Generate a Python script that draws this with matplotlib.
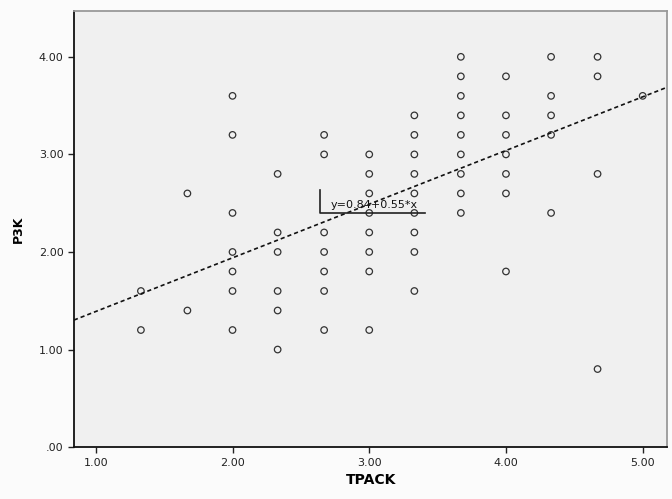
import numpy as np
import matplotlib
matplotlib.use("Agg")
import matplotlib.pyplot as plt
from matplotlib.ticker import FuncFormatter

# TPACK scores (x) and P3K scores (y), grouped by TPACK column
tpack_levels = [1.33, 1.67, 2.00, 2.33, 2.67, 3.00, 3.33, 3.67, 4.00, 4.33, 4.67, 5.00]
p3k_by_level = [
    [1.6, 1.2],
    [2.6, 1.4],
    [3.6, 3.2, 2.4, 2.0, 1.8, 1.6, 1.2],
    [2.8, 2.2, 2.0, 1.6, 1.4, 1.0],
    [3.2, 3.0, 2.2, 2.0, 1.8, 1.6, 1.2],
    [3.0, 2.8, 2.6, 2.4, 2.2, 2.0, 1.8, 1.2],
    [3.4, 3.2, 3.0, 2.8, 2.6, 2.4, 2.2, 2.0, 1.6],
    [4.0, 3.8, 3.6, 3.4, 3.2, 3.0, 2.8, 2.6, 2.4],
    [3.8, 3.4, 3.2, 3.0, 2.8, 2.6, 1.8],
    [4.0, 3.6, 3.4, 3.2, 2.4],
    [4.0, 3.8, 2.8, 0.8],
    [3.6],
]
fit_intercept = 0.84
fit_slope = 0.55
x_ticks = [1, 2, 3, 4, 5]
y_ticks = [0, 1, 2, 3, 4]

x = []
y = []
for lvl, vals in zip(tpack_levels, p3k_by_level):
    x += [lvl] * len(vals)
    y += vals

fig = plt.figure(figsize=(6.72, 4.99), dpi=100, facecolor="#fbfbfb")
ax = fig.add_axes([0.110, 0.104, 0.883, 0.874])
ax.set_facecolor("#f0f0f0")

ax.scatter(x, y, s=22, facecolors="none", edgecolors="#333333", linewidths=0.9, zorder=3)

xlim = (0.84, 5.18)
xs = np.array(xlim)
ax.plot(xs, fit_intercept + fit_slope * xs, color="#111111", lw=1.2,
        linestyle=(0, (2.5, 1.8)), zorder=4)

ax.set_xlim(*xlim)
ax.set_ylim(0, 4.47)
ax.set_xticks(x_ticks)
ax.set_yticks(y_ticks)

def spss_fmt(v, pos):
    s = f"{v:.2f}"
    return s[1:] if s.startswith("0") else s

ax.xaxis.set_major_formatter(FuncFormatter(spss_fmt))
ax.yaxis.set_major_formatter(FuncFormatter(spss_fmt))
ax.tick_params(direction="out", length=4, width=1, colors="#222222", labelsize=8)
for sp in ax.spines.values():
    sp.set_color("#111111")
    sp.set_linewidth(1.3)
ax.spines["right"].set_color("#999999")
ax.spines["top"].set_color("#999999")

ax.set_xlabel("TPACK", fontsize=10, fontweight="bold", labelpad=4)
ax.set_ylabel("P3K", fontsize=9, fontweight="bold", labelpad=10)

# equation label with left/bottom bracket
lx0, lx1 = 320 / 672, 425 / 672
ly0, ly1 = 1 - 213 / 499, 1 - 190 / 499
fig.lines.append(plt.Line2D([lx0, lx0, lx1], [ly1, ly0, ly0], transform=fig.transFigure,
                            color="#222222", lw=1.2))
fig.text((lx0 + lx1) / 2 + 0.002, ly0 + 0.006, f"y={fit_intercept:.2f}+{fit_slope:.2f}*x",
         ha="center", va="bottom", fontsize=8, color="#111111")

fig.savefig("out.png", dpi=100, facecolor=fig.get_facecolor())
